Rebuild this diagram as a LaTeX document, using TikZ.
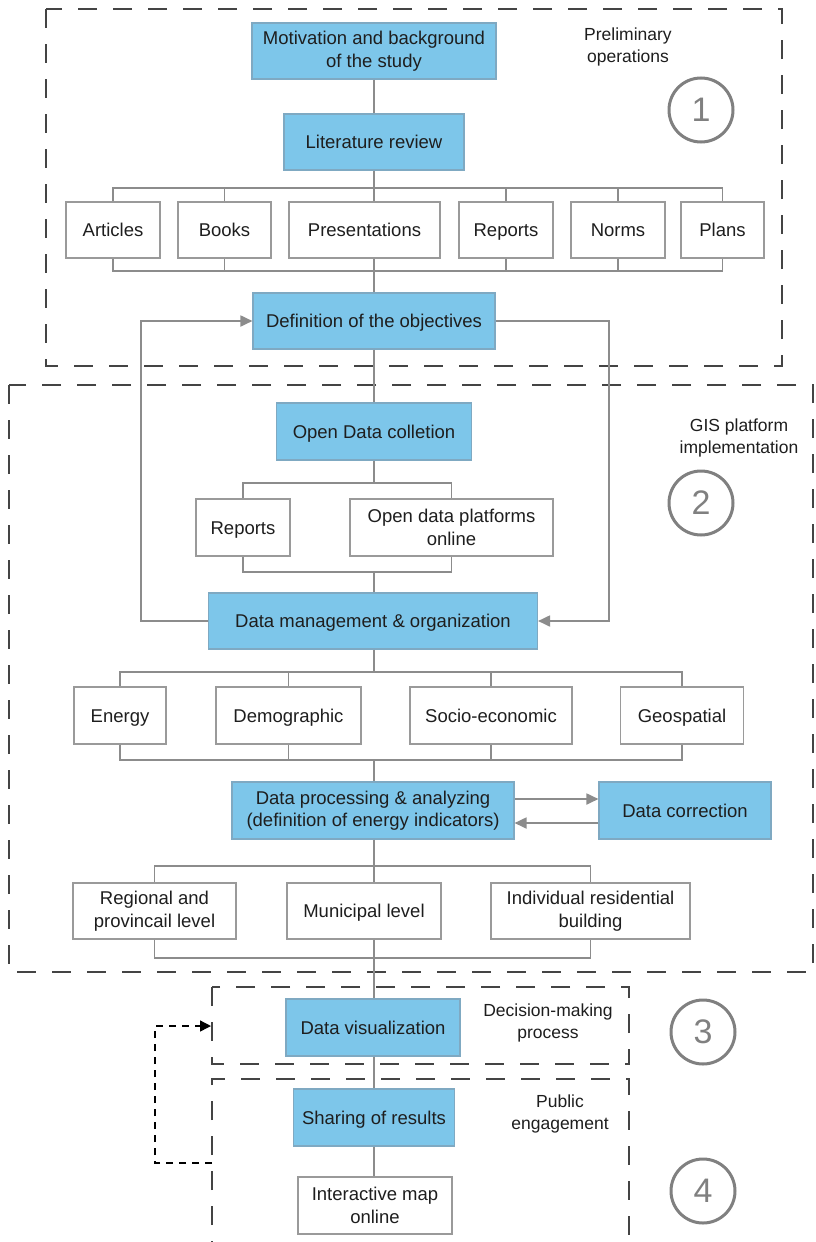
\documentclass[tikz,border=0pt]{standalone}
\usepackage{fontspec}
\setmainfont{Liberation Sans}
\usetikzlibrary{arrows.meta}
\definecolor{boxblue}{HTML}{7DC6EA}
\definecolor{blueedge}{HTML}{7FA9C2}
\definecolor{greyedge}{HTML}{9A9A9A}
\definecolor{conn}{HTML}{8C8C8C}
\definecolor{frame}{HTML}{444444}
\definecolor{txt}{HTML}{1E1E1E}
\definecolor{numgrey}{HTML}{808080}
\tikzset{
  basebox/.style={inner sep=0pt, align=center, text=txt, font=\fontsize{18.5}{22.5}\selectfont, line width=1.1pt},
  bluebox/.style={basebox, fill=boxblue, draw=blueedge},
  whitebox/.style={basebox, fill=white, draw=greyedge},
  oneline/.style={text height=15.5pt, text depth=2.2pt},
  conline/.style={draw=conn, line width=1.8pt},
  conarrow/.style={conline, -{Triangle[length=12pt,width=11pt]}},
  dashframe/.style={draw=frame, line width=1.8pt, dash pattern=on 19pt off 16pt},
  fbline/.style={draw=black, line width=1.4pt, dash pattern=on 7pt off 6pt, -{Triangle[length=11pt,width=11pt]}},
  phaselabel/.style={align=center, text=txt, font=\fontsize{17.5}{22}\selectfont},
  phasecircle/.style={circle, draw=numgrey, line width=3pt, minimum size=64pt, inner sep=0pt, text=numgrey, font=\fontsize{34}{34}\selectfont}
}
\begin{document}
\begin{tikzpicture}[x=1pt,y=-1pt]
\useasboundingbox (0,0) rectangle (815,1242);
\fill[white] (0,0) rectangle (815,1242);

% dashed frames
\draw[dashframe] (46,9) rectangle (782,366);
\draw[dashframe] (9,385) rectangle (813,972);
\draw[dashframe] (212,987) rectangle (629,1064);
\draw[dashframe] (212,1260) -- (212,1079) -- (629,1079) -- (629,1260);

% phase labels
\node[phaselabel] (lab1) at (628,47) {Preliminary\\operations};
\node[phaselabel] (lab2) at (739,438) {GIS platform\\implementation};
\node[phaselabel] (lab3) at (548,1023) {Decision-making\\process};
\node[phaselabel] (lab4) at (560,1114) {Public\\engagement};
\node[phasecircle] (c1) at (701,110) {1};
\node[phasecircle] (c2) at (701,503) {2};
\node[phasecircle] (c3) at (703,1032) {3};
\node[phasecircle] (c4) at (703,1191) {4};

% phase 1 boxes
\node[bluebox, minimum width=244pt, minimum height=56pt] (mot) at (374,51) {Motivation and background\\of the study};
\node[bluebox, oneline, minimum width=180pt, minimum height=56pt] (lit) at (374,142) {Literature review};
\node[whitebox, oneline, minimum width=94pt, minimum height=56pt] (art) at (113,230) {Articles};
\node[whitebox, oneline, minimum width=93pt, minimum height=56pt] (books) at (224.5,230) {Books};
\node[whitebox, oneline, minimum width=151pt, minimum height=56pt] (pres) at (364.5,230) {Presentations};
\node[whitebox, oneline, minimum width=94pt, minimum height=56pt] (rep1) at (506,230) {Reports};
\node[whitebox, oneline, minimum width=94pt, minimum height=56pt] (norms) at (618,230) {Norms};
\node[whitebox, oneline, minimum width=83pt, minimum height=56pt] (plans) at (722.5,230) {Plans};
\node[bluebox, oneline, minimum width=242pt, minimum height=56pt] (def) at (374,321) {Definition of the objectives};

% phase 2 boxes
\node[bluebox, oneline, minimum width=195pt, minimum height=57pt] (odc) at (374,431.5) {Open Data colletion};
\node[whitebox, oneline, minimum width=94pt, minimum height=57pt] (rep2) at (243,527.5) {Reports};
\node[whitebox, minimum width=203pt, minimum height=57pt] (odp) at (451.5,527.5) {Open data platforms\\online};
\node[bluebox, oneline, minimum width=329pt, minimum height=56pt] (dm) at (373,621) {Data management \& organization};
\node[whitebox, oneline, minimum width=92pt, minimum height=57pt] (energy) at (120,715.5) {Energy};
\node[whitebox, oneline, minimum width=145pt, minimum height=57pt] (demo) at (288.5,715.5) {Demographic};
\node[whitebox, oneline, minimum width=162pt, minimum height=57pt] (socio) at (491,715.5) {Socio-economic};
\node[whitebox, oneline, minimum width=123pt, minimum height=57pt] (geo) at (682,715.5) {Geospatial};
\node[bluebox, minimum width=282pt, minimum height=57pt] (dp) at (373,810.5) {Data processing \& analyzing\\(definition of energy indicators)};
\node[bluebox, oneline, minimum width=172pt, minimum height=57pt] (dc) at (685,810.5) {Data correction};
\node[whitebox, minimum width=163pt, minimum height=56pt] (reg) at (154.5,911) {Regional and\\provincail level};
\node[whitebox, oneline, minimum width=154pt, minimum height=56pt] (mun) at (364,911) {Municipal level};
\node[whitebox, minimum width=199pt, minimum height=56pt] (ind) at (590.5,911) {Individual residential\\building};

% phase 3 / 4 boxes
\node[bluebox, oneline, minimum width=174pt, minimum height=57pt] (dv) at (373,1027.5) {Data visualization};
\node[bluebox, oneline, minimum width=161pt, minimum height=57pt] (sr) at (374,1117.5) {Sharing of results};
\node[whitebox, minimum width=154pt, minimum height=57pt] (im) at (375,1205.5) {Interactive map\\online};

% bus coordinates
\coordinate (b1) at (374,188);
\coordinate (b2) at (374,271);
\coordinate (b3) at (374,483);
\coordinate (b4) at (374,572);
\coordinate (b5) at (374,672);
\coordinate (b6) at (374,760);
\coordinate (b7) at (374,866);
\coordinate (b8) at (374,958);
\coordinate (lx) at (141,470);
\coordinate (rx) at (609,470);
\coordinate (fbx) at (155,1100);

% phase 1 connectors
\draw[conline] (mot.south) -- (lit.north);
\draw[conline] (lit.south) -- (b1);
\draw[conline] (art.north) |- (b1) -| (plans.north);
\draw[conline] (books.north) -- (books.north |- b1);
\draw[conline] (b1) -- (b1 |- pres.north);
\draw[conline] (rep1.north) -- (rep1.north |- b1);
\draw[conline] (norms.north) -- (norms.north |- b1);
\draw[conline] (art.south) |- (b2) -| (plans.south);
\draw[conline] (books.south) -- (books.south |- b2);
\draw[conline] (rep1.south) -- (rep1.south |- b2);
\draw[conline] (norms.south) -- (norms.south |- b2);
\draw[conline] (b2 |- pres.south) -- (def.north);

% feedback loops between objectives and data management
\draw[conarrow] (dm.west) -- (dm.west -| lx) -- (def.west -| lx) -- (def.west);
\draw[conarrow] (def.east) -- (def.east -| rx) -- (dm.east -| rx) -- (dm.east);

% phase 2 connectors
\draw[conline] (def.south) -- (odc.north);
\draw[conline] (odc.south) -- (b3);
\draw[conline] (rep2.north) |- (b3) -| (odp.north);
\draw[conline] (rep2.south) |- (b4) -| (odp.south);
\draw[conline] (b4) -- (dm.north -| b4);
\draw[conline] (dm.south -| b5) -- (b5);
\draw[conline] (energy.north) |- (b5) -| (geo.north);
\draw[conline] (demo.north) -- (demo.north |- b5);
\draw[conline] (socio.north) -- (socio.north |- b5);
\draw[conline] (energy.south) |- (b6) -| (geo.south);
\draw[conline] (demo.south) -- (demo.south |- b6);
\draw[conline] (socio.south) -- (socio.south |- b6);
\draw[conline] (b6) -- (dp.north -| b6);
\draw[conarrow] ([yshift=11.5pt]dp.east) -- ([yshift=11.5pt]dc.west);
\draw[conarrow] ([yshift=-12.5pt]dc.west) -- ([yshift=-12.5pt]dp.east);
\draw[conline] (dp.south -| b7) -- (b7);
\draw[conline] (reg.north) |- (b7) -| (ind.north);
\draw[conline] (b7) -- (b7 |- mun.north);
\draw[conline] (reg.south) |- (b8) -| (ind.south);
\draw[conline] (mun.south -| b8) -- (dv.north -| b8);

% phase 3 / 4 connectors
\draw[conline] (dv.south -| b8) -- (sr.north -| b8);
\draw[conline] (sr.south -| b8) -- (im.north -| b8);

% dashed feedback from public engagement to decision-making
\coordinate (fbs) at (212,1163);
\coordinate (fbe) at (211,1026);
\draw[fbline] (fbs) -- (fbs -| fbx) -- (fbe -| fbx) -- (fbe);
\end{tikzpicture}
\end{document}
